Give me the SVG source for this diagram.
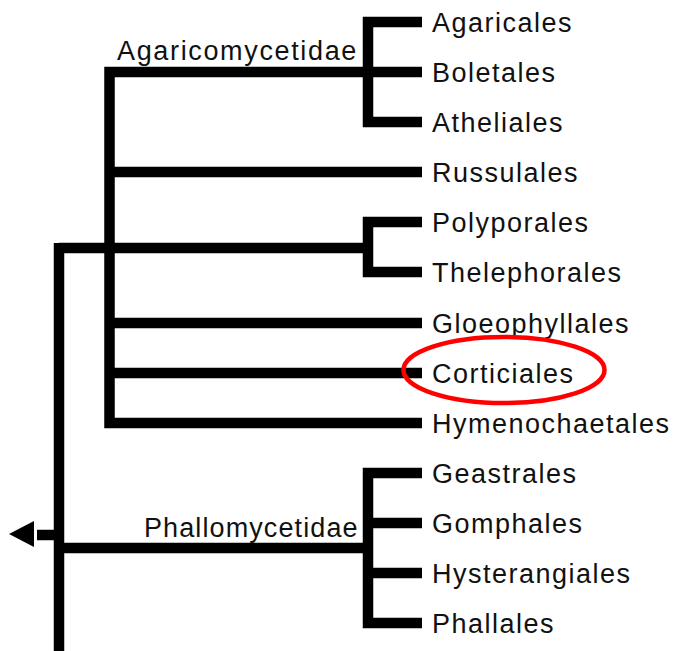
<svg xmlns="http://www.w3.org/2000/svg" width="676" height="651" viewBox="0 0 676 651">
<style>
.br{fill:none;stroke:#000;stroke-width:10.5;stroke-linejoin:miter;stroke-linecap:butt}
.lb{font-family:"Liberation Sans",Arial,sans-serif;font-size:27px;letter-spacing:1.5px;fill:#111}
</style>
<rect width="676" height="651" fill="#fff"/>
<g id="connectors">
<path class="br" d="M59 243 V651"/>
<path class="br" d="M59 248 H368"/>
<path class="br" d="M422 72 H109.5 V423 H422"/>
<path class="br" d="M109.5 172 H422 M109.5 323 H422 M109.5 373 H422"/>
<path class="br" d="M422 22 H368 V122 H422"/>
<path class="br" d="M422 222 H368 V272 H422"/>
<path class="br" d="M59 548 H368"/>
<path class="br" d="M422 473 H368 V623 H422"/>
<path class="br" d="M368 523 H422 M368 573 H422"/>
<path class="br" d="M37 535 H59"/>
<polygon points="9,534 34,521 34,547" fill="#000"/>
</g>
<g id="clade-agaricomycetidae"><text class="lb" x="117" y="60" style="letter-spacing:1.65px">Agaricomycetidae</text></g>
<g id="clade-phallomycetidae"><text class="lb" x="144" y="537" style="letter-spacing:1.1px">Phallomycetidae</text></g>
<g id="n-agaricales"><text class="lb" x="432" y="32">Agaricales</text></g>
<g id="n-boletales"><text class="lb" x="432" y="82">Boletales</text></g>
<g id="n-atheliales"><text class="lb" x="432" y="132">Atheliales</text></g>
<g id="n-russulales"><text class="lb" x="432" y="182">Russulales</text></g>
<g id="n-polyporales"><text class="lb" x="432" y="232">Polyporales</text></g>
<g id="n-thelephorales"><text class="lb" x="432" y="282">Thelephorales</text></g>
<g id="n-gloeophyllales"><text class="lb" x="432" y="333">Gloeophyllales</text></g>
<g id="n-corticiales"><text class="lb" x="432" y="383">Corticiales</text>
<ellipse cx="504" cy="370" rx="100.5" ry="33" fill="none" stroke="#f00" stroke-width="4.5"/></g>
<g id="n-hymenochaetales"><text class="lb" x="432" y="433">Hymenochaetales</text></g>
<g id="n-geastrales"><text class="lb" x="432" y="483">Geastrales</text></g>
<g id="n-gomphales"><text class="lb" x="432" y="533">Gomphales</text></g>
<g id="n-hysterangiales"><text class="lb" x="432" y="583">Hysterangiales</text></g>
<g id="n-phallales"><text class="lb" x="432" y="633">Phallales</text></g>
</svg>
